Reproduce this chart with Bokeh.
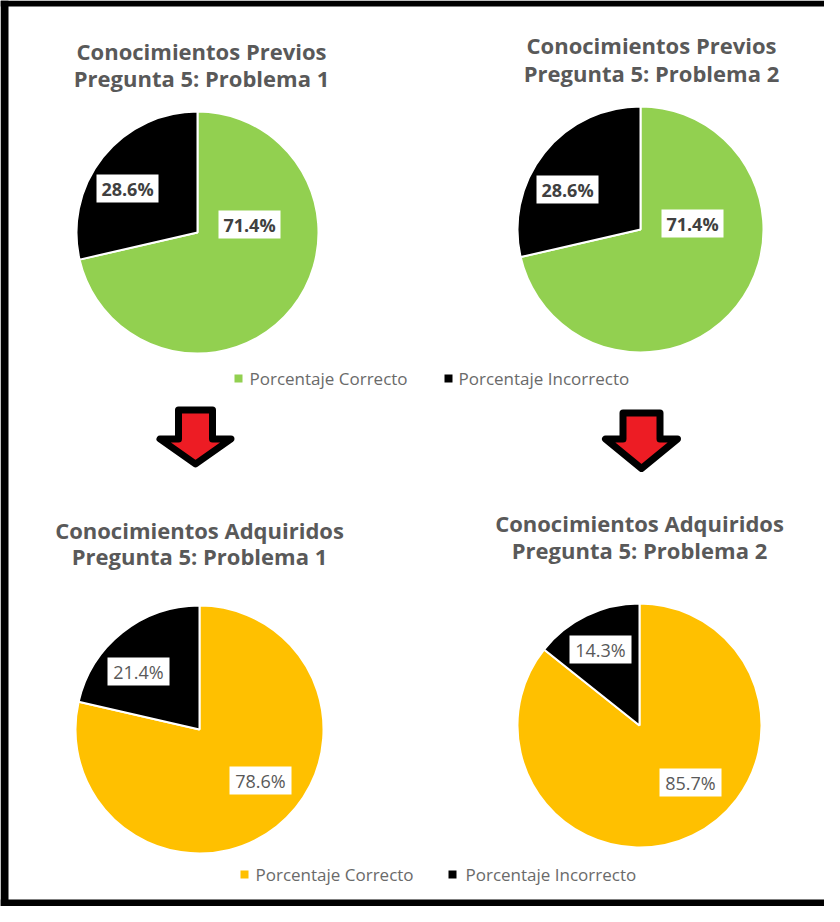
import math
from bokeh.plotting import figure
from bokeh.models import Range1d, ColumnDataSource
from bokeh.core.properties import value
from bokeh.embed import file_html
from bokeh.resources import INLINE

# ---------------- data ----------------
categories = ["Porcentaje Correcto", "Porcentaje Incorrecto"]
titles_line1 = ["Conocimientos Previos", "Conocimientos Previos",
                "Conocimientos Adquiridos", "Conocimientos Adquiridos"]
titles_line2 = ["Pregunta 5: Problema 1", "Pregunta 5: Problema 2",
                "Pregunta 5: Problema 1", "Pregunta 5: Problema 2"]
correct_pct = [71.4, 71.4, 78.6, 85.7]
incorrect_pct = [28.6, 28.6, 21.4, 14.3]

# ---------------- layout / style ----------------
W, H = 824, 906
FONT = value("Open Sans")
GREEN, YELLOW, BLACK = "#92D050", "#FFC000", "#000000"
pie_colors = [(GREEN, BLACK), (GREEN, BLACK), (YELLOW, BLACK), (YELLOW, BLACK)]
centers = [(197, 232), (640, 229), (199, 729), (639, 725)]   # top-down coords
radii = [121, 123, 124, 122]
title_x = [201, 651, 199, 639]
title_base1 = [50, 44, 529, 522]
title_base2 = [77, 72, 555, 549]
label_offsets = [[(52, -8), (-70, -44)], [(52, -6), (-73, -40)],
                 [(61, 51), (-61, -58)], [(51, 57), (-39, -76)]]
label_bold = [True, True, False, False]
label_color = ["#404040", "#404040", "#595959", "#595959"]
legend_rows = [  # (y, marker x positions, text x positions, colors)
    (378, [238, 448], [249, 458], [GREEN, BLACK]),
    (874, [244, 452], [255, 465], [YELLOW, BLACK]),
]
arrows = [dict(cx=195, top=409.5, sh=17, hh=35.5, hy=438.5, tip=463.5),
          dict(cx=641, top=412.5, sh=18.5, hh=36, hy=438.5, tip=468)]


def fy(y):
    return H - y


p = figure(width=W, height=H, x_range=Range1d(0, W), y_range=Range1d(0, H),
           output_backend="svg", toolbar_location=None, min_border=0)
p.axis.visible = False
p.grid.visible = False
p.outline_line_color = None
p.background_fill_color = "white"
p.border_fill_color = "white"

# frame border (left, top, bottom)
p.quad(left=[0, 0, 0], right=[8, W, W],
       top=[fy(0), fy(0), fy(899)], bottom=[fy(906), fy(6), fy(906)],
       fill_color="black", line_color=None)

# pies
for i in range(4):
    cx, cy = centers[i]
    vals = [correct_pct[i], incorrect_pct[i]]
    total = sum(vals)
    starts, ends = [], []
    a = math.pi / 2
    for v in vals:
        starts.append(a)
        a = a - 2 * math.pi * v / total
        ends.append(a)
    src = ColumnDataSource(dict(x=[cx, cx], y=[fy(cy), fy(cy)], start=starts, end=ends,
                                color=list(pie_colors[i]), cat=categories))
    p.wedge(x="x", y="y", radius=radii[i], start_angle="start", end_angle="end",
            direction="clock", fill_color="color", line_color="white", line_width=2,
            source=src)
    # data labels
    lx = [cx + off[0] for off in label_offsets[i]]
    ly = [fy(cy + off[1]) for off in label_offsets[i]]
    txt = [f"{v:.1f}%" for v in vals]
    p.rect(x=lx, y=ly, width=62, height=28, width_units="screen", height_units="screen",
           fill_color="white", line_color=None)
    p.text(x=lx, y=ly, text=txt, text_font=FONT, text_font_size="18px",
           text_font_style="bold" if label_bold[i] else "normal",
           text_color=label_color[i], text_align="center", text_baseline="middle")
    # titles
    p.text(x=[title_x[i], title_x[i]], y=[fy(title_base1[i]), fy(title_base2[i])],
           text=[titles_line1[i], titles_line2[i]], text_font=FONT,
           text_font_size="22px", text_font_style="bold", text_color="#595959",
           text_align="center", text_baseline="alphabetic")

# legends
for y, mx, tx, cols in legend_rows:
    p.scatter(x=mx, y=[fy(y)] * 2, marker="square", size=8, fill_color=cols,
              line_color=None)
    p.text(x=tx, y=[fy(y)] * 2, text=categories, text_font=FONT, text_font_size="17px",
           text_color="#6a6a6a", text_align="left", text_baseline="middle")

# arrows
axs, ays = [], []
for a in arrows:
    cx, sh, hh = a["cx"], a["sh"], a["hh"]
    axs.append([cx - sh, cx + sh, cx + sh, cx + hh, cx, cx - hh, cx - sh])
    ays.append([fy(v) for v in [a["top"], a["top"], a["hy"], a["hy"], a["tip"], a["hy"], a["hy"]]])
p.patches(xs=axs, ys=ays, fill_color="#ED1C24", line_color="black", line_width=7,
          line_join="round")

open("out.html", "w").write(file_html(p, INLINE))
